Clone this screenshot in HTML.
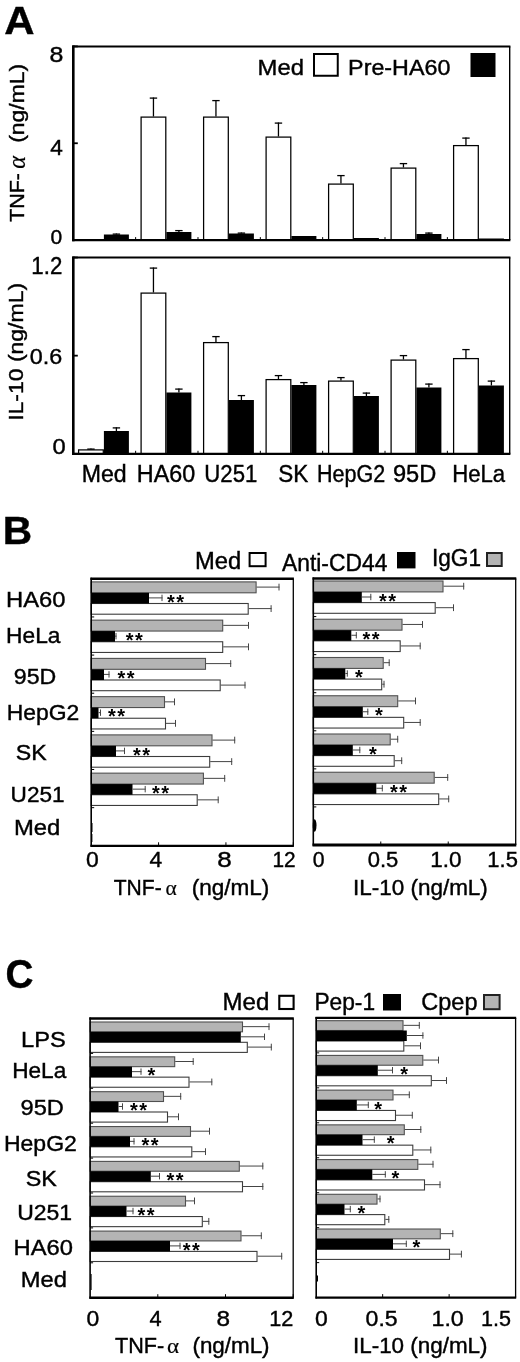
<!DOCTYPE html>
<html lang="en"><head><meta charset="utf-8"><title>Figure</title>
<style>
html,body{margin:0;padding:0;background:#fff;}
body{width:520px;height:1362px;overflow:hidden;}
svg{display:block;}
svg text{font-family:"Liberation Sans", "DejaVu Sans", sans-serif;fill:#000;stroke:#000;stroke-width:0.4px;}
svg text.st{stroke-width:0;}
svg text.sf{font-family:"Liberation Serif", "DejaVu Serif", serif;stroke-width:0.2px;}
</style></head><body>
<svg width="520" height="1362" viewBox="0 0 520 1362">
<rect width="520" height="1362" fill="#fff"/>
<text x="4.35" y="33.6" font-size="39.5" font-weight="bold" textLength="30.28" lengthAdjust="spacingAndGlyphs">A</text>
<rect x="103.9" y="234.5" width="25" height="5.6" fill="#000"/>
<line x1="116.4" y1="234.5" x2="116.4" y2="233.5" stroke="#000" stroke-width="1.3"/>
<line x1="112.7" y1="234.1" x2="120.1" y2="234.1" stroke="#000" stroke-width="1.3"/>
<rect x="141.1" y="117.1" width="24.7" height="123" fill="#fff" stroke="#000" stroke-width="1.25"/>
<line x1="153.45" y1="116.5" x2="153.45" y2="97.5" stroke="#000" stroke-width="1.3"/>
<line x1="149.75" y1="98.1" x2="157.15" y2="98.1" stroke="#000" stroke-width="1.3"/>
<rect x="166.4" y="232" width="25" height="8.1" fill="#000"/>
<line x1="178.9" y1="232" x2="178.9" y2="230" stroke="#000" stroke-width="1.3"/>
<line x1="175.2" y1="230.6" x2="182.6" y2="230.6" stroke="#000" stroke-width="1.3"/>
<rect x="203.6" y="117.1" width="24.7" height="123" fill="#fff" stroke="#000" stroke-width="1.25"/>
<line x1="215.95" y1="116.5" x2="215.95" y2="100" stroke="#000" stroke-width="1.3"/>
<line x1="212.25" y1="100.6" x2="219.65" y2="100.6" stroke="#000" stroke-width="1.3"/>
<rect x="228.9" y="233.5" width="25" height="6.6" fill="#000"/>
<line x1="241.4" y1="233.5" x2="241.4" y2="232.5" stroke="#000" stroke-width="1.3"/>
<line x1="237.7" y1="233.1" x2="245.1" y2="233.1" stroke="#000" stroke-width="1.3"/>
<rect x="266.1" y="137.1" width="24.7" height="103" fill="#fff" stroke="#000" stroke-width="1.25"/>
<line x1="278.45" y1="136.5" x2="278.45" y2="122.5" stroke="#000" stroke-width="1.3"/>
<line x1="274.75" y1="123.1" x2="282.15" y2="123.1" stroke="#000" stroke-width="1.3"/>
<rect x="291.4" y="236" width="25" height="4.1" fill="#000"/>
<rect x="328.6" y="184.1" width="24.7" height="56" fill="#fff" stroke="#000" stroke-width="1.25"/>
<line x1="340.95" y1="183.5" x2="340.95" y2="175" stroke="#000" stroke-width="1.3"/>
<line x1="337.25" y1="175.6" x2="344.65" y2="175.6" stroke="#000" stroke-width="1.3"/>
<rect x="353.9" y="238" width="25" height="2.1" fill="#000"/>
<rect x="391.1" y="168.1" width="24.7" height="72" fill="#fff" stroke="#000" stroke-width="1.25"/>
<line x1="403.45" y1="167.5" x2="403.45" y2="163" stroke="#000" stroke-width="1.3"/>
<line x1="399.75" y1="163.6" x2="407.15" y2="163.6" stroke="#000" stroke-width="1.3"/>
<rect x="416.4" y="234" width="25" height="6.1" fill="#000"/>
<line x1="428.9" y1="234" x2="428.9" y2="232.5" stroke="#000" stroke-width="1.3"/>
<line x1="425.2" y1="233.1" x2="432.6" y2="233.1" stroke="#000" stroke-width="1.3"/>
<rect x="453.6" y="145.6" width="24.7" height="94.5" fill="#fff" stroke="#000" stroke-width="1.25"/>
<line x1="465.95" y1="145" x2="465.95" y2="137.5" stroke="#000" stroke-width="1.3"/>
<line x1="462.25" y1="138.1" x2="469.65" y2="138.1" stroke="#000" stroke-width="1.3"/>
<rect x="478.9" y="238.5" width="25" height="1.6" fill="#000"/>
<line x1="135.64" y1="240.1" x2="135.64" y2="237.1" stroke="#000" stroke-width="1"/>
<line x1="197.99" y1="240.1" x2="197.99" y2="237.1" stroke="#000" stroke-width="1"/>
<line x1="260.33" y1="240.1" x2="260.33" y2="237.1" stroke="#000" stroke-width="1"/>
<line x1="322.67" y1="240.1" x2="322.67" y2="237.1" stroke="#000" stroke-width="1"/>
<line x1="385.01" y1="240.1" x2="385.01" y2="237.1" stroke="#000" stroke-width="1"/>
<line x1="447.36" y1="240.1" x2="447.36" y2="237.1" stroke="#000" stroke-width="1"/>
<line x1="73.3" y1="45.4" x2="73.3" y2="241.3" stroke="#000" stroke-width="2.6"/>
<line x1="72.3" y1="46.4" x2="510.4" y2="46.4" stroke="#000" stroke-width="2"/>
<line x1="72.3" y1="240.1" x2="510.4" y2="240.1" stroke="#000" stroke-width="2.2"/>
<line x1="509.7" y1="46.4" x2="509.7" y2="240.1" stroke="#000" stroke-width="1.4"/>
<line x1="73.3" y1="46.4" x2="77.8" y2="46.4" stroke="#000" stroke-width="1.8"/>
<line x1="73.3" y1="143.25" x2="77.8" y2="143.25" stroke="#000" stroke-width="1.8"/>
<line x1="73.3" y1="240.1" x2="77.8" y2="240.1" stroke="#000" stroke-width="1.8"/>
<text x="49.44" y="62.2" font-size="22.32" textLength="13.89" lengthAdjust="spacingAndGlyphs">8</text>
<text x="50.39" y="154.9" font-size="21.61" textLength="12.56" lengthAdjust="spacingAndGlyphs">4</text>
<text x="50.61" y="244" font-size="20.2" textLength="11.7" lengthAdjust="spacingAndGlyphs">0</text>
<text transform="translate(24.3 221.73) rotate(-90)" font-size="20.8" textLength="48.62" lengthAdjust="spacingAndGlyphs">TNF-</text>
<text transform="translate(24.7 168.87) rotate(-90)" font-size="25" class="sf" font-style="italic" textLength="12.74" lengthAdjust="spacingAndGlyphs">α</text>
<text transform="translate(24.3 142.77) rotate(-90)" font-size="20.8" textLength="78.86" lengthAdjust="spacingAndGlyphs">(ng/mL)</text>
<text x="257.59" y="75" font-size="21.95" textLength="46.41" lengthAdjust="spacingAndGlyphs">Med</text>
<rect x="314" y="54" width="23.75" height="21.75" fill="#fff" stroke="#000" stroke-width="2"/>
<text x="348.14" y="75" font-size="21.95" textLength="102.25" lengthAdjust="spacingAndGlyphs">Pre-HA60</text>
<rect x="470.5" y="53" width="25" height="24" fill="#000"/>
<rect x="78.6" y="449.9" width="24.7" height="3.9" fill="#fff" stroke="#000" stroke-width="1.25"/>
<line x1="90.95" y1="449.3" x2="90.95" y2="448.5" stroke="#000" stroke-width="1.3"/>
<line x1="87.25" y1="449.1" x2="94.65" y2="449.1" stroke="#000" stroke-width="1.3"/>
<rect x="103.9" y="431" width="25" height="22.8" fill="#000"/>
<line x1="116.4" y1="431" x2="116.4" y2="427.3" stroke="#000" stroke-width="1.3"/>
<line x1="112.7" y1="427.9" x2="120.1" y2="427.9" stroke="#000" stroke-width="1.3"/>
<rect x="141.1" y="293.1" width="24.7" height="160.7" fill="#fff" stroke="#000" stroke-width="1.25"/>
<line x1="153.45" y1="292.5" x2="153.45" y2="267.5" stroke="#000" stroke-width="1.3"/>
<line x1="149.75" y1="268.1" x2="157.15" y2="268.1" stroke="#000" stroke-width="1.3"/>
<rect x="166.4" y="392.5" width="25" height="61.3" fill="#000"/>
<line x1="178.9" y1="392.5" x2="178.9" y2="388.5" stroke="#000" stroke-width="1.3"/>
<line x1="175.2" y1="389.1" x2="182.6" y2="389.1" stroke="#000" stroke-width="1.3"/>
<rect x="203.6" y="342.6" width="24.7" height="111.2" fill="#fff" stroke="#000" stroke-width="1.25"/>
<line x1="215.95" y1="342" x2="215.95" y2="336" stroke="#000" stroke-width="1.3"/>
<line x1="212.25" y1="336.6" x2="219.65" y2="336.6" stroke="#000" stroke-width="1.3"/>
<rect x="228.9" y="400" width="25" height="53.8" fill="#000"/>
<line x1="241.4" y1="400" x2="241.4" y2="395" stroke="#000" stroke-width="1.3"/>
<line x1="237.7" y1="395.6" x2="245.1" y2="395.6" stroke="#000" stroke-width="1.3"/>
<rect x="266.1" y="379.6" width="24.7" height="74.2" fill="#fff" stroke="#000" stroke-width="1.25"/>
<line x1="278.45" y1="379" x2="278.45" y2="375" stroke="#000" stroke-width="1.3"/>
<line x1="274.75" y1="375.6" x2="282.15" y2="375.6" stroke="#000" stroke-width="1.3"/>
<rect x="291.4" y="385" width="25" height="68.8" fill="#000"/>
<line x1="303.9" y1="385" x2="303.9" y2="382" stroke="#000" stroke-width="1.3"/>
<line x1="300.2" y1="382.6" x2="307.6" y2="382.6" stroke="#000" stroke-width="1.3"/>
<rect x="328.6" y="381.1" width="24.7" height="72.7" fill="#fff" stroke="#000" stroke-width="1.25"/>
<line x1="340.95" y1="380.5" x2="340.95" y2="377" stroke="#000" stroke-width="1.3"/>
<line x1="337.25" y1="377.6" x2="344.65" y2="377.6" stroke="#000" stroke-width="1.3"/>
<rect x="353.9" y="396" width="25" height="57.8" fill="#000"/>
<line x1="366.4" y1="396" x2="366.4" y2="392.5" stroke="#000" stroke-width="1.3"/>
<line x1="362.7" y1="393.1" x2="370.1" y2="393.1" stroke="#000" stroke-width="1.3"/>
<rect x="391.1" y="360.1" width="24.7" height="93.7" fill="#fff" stroke="#000" stroke-width="1.25"/>
<line x1="403.45" y1="359.5" x2="403.45" y2="355" stroke="#000" stroke-width="1.3"/>
<line x1="399.75" y1="355.6" x2="407.15" y2="355.6" stroke="#000" stroke-width="1.3"/>
<rect x="416.4" y="387.5" width="25" height="66.3" fill="#000"/>
<line x1="428.9" y1="387.5" x2="428.9" y2="383.5" stroke="#000" stroke-width="1.3"/>
<line x1="425.2" y1="384.1" x2="432.6" y2="384.1" stroke="#000" stroke-width="1.3"/>
<rect x="453.6" y="358.6" width="24.7" height="95.2" fill="#fff" stroke="#000" stroke-width="1.25"/>
<line x1="465.95" y1="358" x2="465.95" y2="349" stroke="#000" stroke-width="1.3"/>
<line x1="462.25" y1="349.6" x2="469.65" y2="349.6" stroke="#000" stroke-width="1.3"/>
<rect x="478.9" y="385.5" width="25" height="68.3" fill="#000"/>
<line x1="491.4" y1="385.5" x2="491.4" y2="380.5" stroke="#000" stroke-width="1.3"/>
<line x1="487.7" y1="381.1" x2="495.1" y2="381.1" stroke="#000" stroke-width="1.3"/>
<line x1="135.64" y1="453.8" x2="135.64" y2="450.8" stroke="#000" stroke-width="1"/>
<line x1="197.99" y1="453.8" x2="197.99" y2="450.8" stroke="#000" stroke-width="1"/>
<line x1="260.33" y1="453.8" x2="260.33" y2="450.8" stroke="#000" stroke-width="1"/>
<line x1="322.67" y1="453.8" x2="322.67" y2="450.8" stroke="#000" stroke-width="1"/>
<line x1="385.01" y1="453.8" x2="385.01" y2="450.8" stroke="#000" stroke-width="1"/>
<line x1="447.36" y1="453.8" x2="447.36" y2="450.8" stroke="#000" stroke-width="1"/>
<line x1="73.3" y1="256.5" x2="73.3" y2="455" stroke="#000" stroke-width="2.6"/>
<line x1="72.3" y1="257.5" x2="510.4" y2="257.5" stroke="#000" stroke-width="2"/>
<line x1="72.3" y1="453.8" x2="510.4" y2="453.8" stroke="#000" stroke-width="2.2"/>
<line x1="509.7" y1="257.5" x2="509.7" y2="453.8" stroke="#000" stroke-width="1.4"/>
<line x1="73.3" y1="257.5" x2="77.8" y2="257.5" stroke="#000" stroke-width="1.8"/>
<line x1="73.3" y1="355.65" x2="77.8" y2="355.65" stroke="#000" stroke-width="1.8"/>
<line x1="73.3" y1="453.8" x2="77.8" y2="453.8" stroke="#000" stroke-width="1.8"/>
<text x="31.33" y="273.7" font-size="23.5" textLength="30.93" lengthAdjust="spacingAndGlyphs">1.2</text>
<text x="29.82" y="364" font-size="21.61" textLength="32.47" lengthAdjust="spacingAndGlyphs">0.6</text>
<text x="52.51" y="454.2" font-size="21.19" textLength="13.21" lengthAdjust="spacingAndGlyphs">0</text>
<text transform="translate(23.3 420.87) rotate(-90)" font-size="20.8" textLength="137.95" lengthAdjust="spacingAndGlyphs">IL-10 (ng/mL)</text>
<text x="81.65" y="481.9" font-size="23.5" textLength="45" lengthAdjust="spacingAndGlyphs">Med</text>
<text x="136.83" y="481.9" font-size="23.5" textLength="58.38" lengthAdjust="spacingAndGlyphs">HA60</text>
<text x="204.34" y="481.9" font-size="23.5" textLength="52.93" lengthAdjust="spacingAndGlyphs">U251</text>
<text x="278.19" y="481.9" font-size="23.5" textLength="30.01" lengthAdjust="spacingAndGlyphs">SK</text>
<text x="317.08" y="481.9" font-size="23.5" textLength="68.17" lengthAdjust="spacingAndGlyphs">HepG2</text>
<text x="392.94" y="481.9" font-size="23.5" textLength="43.38" lengthAdjust="spacingAndGlyphs">95D</text>
<text x="452.23" y="481.9" font-size="23.5" textLength="52.93" lengthAdjust="spacingAndGlyphs">HeLa</text>
<text x="2.76" y="544.3" font-size="39.5" font-weight="bold" textLength="29.36" lengthAdjust="spacingAndGlyphs">B</text>
<text x="195.1" y="568.7" font-size="23.5" textLength="46.19" lengthAdjust="spacingAndGlyphs">Med</text>
<rect x="249.6" y="553" width="16" height="13.2" fill="#fff" stroke="#000" stroke-width="2"/>
<text x="282" y="570.7" font-size="23.5" textLength="105.34" lengthAdjust="spacingAndGlyphs">Anti-CD44</text>
<rect x="397" y="552" width="18.5" height="16.4" fill="#000"/>
<text x="431.96" y="566.2" font-size="23.5" textLength="49.13" lengthAdjust="spacingAndGlyphs">IgG1</text>
<rect x="487" y="553" width="14.7" height="13" fill="#b4b4b4" stroke="#222" stroke-width="2"/>
<rect x="91.2" y="581.9" width="164.9" height="10.9" fill="#b4b4b4" stroke="#505050" stroke-width="1.1"/>
<line x1="256.6" y1="587.1" x2="279.5" y2="587.1" stroke="#444" stroke-width="1"/>
<line x1="279" y1="583.7" x2="279" y2="590.5" stroke="#444" stroke-width="1"/>
<rect x="91.2" y="603.5" width="157" height="10.7" fill="#fff" stroke="#3c3c3c" stroke-width="1.1"/>
<line x1="248.7" y1="608.6" x2="271.6" y2="608.6" stroke="#444" stroke-width="1"/>
<line x1="271.1" y1="605.2" x2="271.1" y2="612" stroke="#444" stroke-width="1"/>
<rect x="91.2" y="592.8" width="57.8" height="10.7" fill="#000"/>
<line x1="149" y1="597.9" x2="162.5" y2="597.9" stroke="#444" stroke-width="1"/>
<line x1="162" y1="594.7" x2="162" y2="601.1" stroke="#444" stroke-width="1"/>
<text x="166.96" y="608.54" font-size="20" font-weight="bold" class="st">*<tspan dx="1.52">*</tspan></text>
<rect x="91.2" y="620.15" width="131.5" height="10.9" fill="#b4b4b4" stroke="#505050" stroke-width="1.1"/>
<line x1="223.2" y1="625.35" x2="249" y2="625.35" stroke="#444" stroke-width="1"/>
<line x1="248.5" y1="621.95" x2="248.5" y2="628.75" stroke="#444" stroke-width="1"/>
<rect x="91.2" y="641.75" width="131.5" height="10.7" fill="#fff" stroke="#3c3c3c" stroke-width="1.1"/>
<line x1="223.2" y1="646.85" x2="249" y2="646.85" stroke="#444" stroke-width="1"/>
<line x1="248.5" y1="643.45" x2="248.5" y2="650.25" stroke="#444" stroke-width="1"/>
<rect x="91.2" y="631.05" width="23.8" height="10.7" fill="#000"/>
<line x1="115" y1="636.15" x2="116.5" y2="636.15" stroke="#444" stroke-width="1"/>
<line x1="116" y1="632.95" x2="116" y2="639.35" stroke="#444" stroke-width="1"/>
<text x="125.66" y="646.79" font-size="20" font-weight="bold" class="st">*<tspan dx="1.52">*</tspan></text>
<rect x="91.2" y="658.4" width="114.3" height="10.9" fill="#b4b4b4" stroke="#505050" stroke-width="1.1"/>
<line x1="206" y1="663.6" x2="231.2" y2="663.6" stroke="#444" stroke-width="1"/>
<line x1="230.7" y1="660.2" x2="230.7" y2="667" stroke="#444" stroke-width="1"/>
<rect x="91.2" y="680" width="129" height="10.7" fill="#fff" stroke="#3c3c3c" stroke-width="1.1"/>
<line x1="220.7" y1="685.1" x2="245.5" y2="685.1" stroke="#444" stroke-width="1"/>
<line x1="245" y1="681.7" x2="245" y2="688.5" stroke="#444" stroke-width="1"/>
<rect x="91.2" y="669.3" width="12.8" height="10.7" fill="#000"/>
<line x1="104" y1="674.4" x2="109.5" y2="674.4" stroke="#444" stroke-width="1"/>
<line x1="109" y1="671.2" x2="109" y2="677.6" stroke="#444" stroke-width="1"/>
<text x="117.46" y="685.04" font-size="20" font-weight="bold" class="st">*<tspan dx="1.52">*</tspan></text>
<rect x="91.2" y="696.65" width="73.3" height="10.9" fill="#b4b4b4" stroke="#505050" stroke-width="1.1"/>
<line x1="165" y1="701.85" x2="175" y2="701.85" stroke="#444" stroke-width="1"/>
<line x1="174.5" y1="698.45" x2="174.5" y2="705.25" stroke="#444" stroke-width="1"/>
<rect x="91.2" y="718.25" width="74.3" height="10.7" fill="#fff" stroke="#3c3c3c" stroke-width="1.1"/>
<line x1="166" y1="723.35" x2="176" y2="723.35" stroke="#444" stroke-width="1"/>
<line x1="175.5" y1="719.95" x2="175.5" y2="726.75" stroke="#444" stroke-width="1"/>
<rect x="91.2" y="707.55" width="7.3" height="10.7" fill="#000"/>
<line x1="98.5" y1="712.65" x2="101" y2="712.65" stroke="#444" stroke-width="1"/>
<line x1="100.5" y1="709.45" x2="100.5" y2="715.85" stroke="#444" stroke-width="1"/>
<text x="107.96" y="723.29" font-size="20" font-weight="bold" class="st">*<tspan dx="1.52">*</tspan></text>
<rect x="91.2" y="734.9" width="120.8" height="10.9" fill="#b4b4b4" stroke="#505050" stroke-width="1.1"/>
<line x1="212.5" y1="740.1" x2="235.2" y2="740.1" stroke="#444" stroke-width="1"/>
<line x1="234.7" y1="736.7" x2="234.7" y2="743.5" stroke="#444" stroke-width="1"/>
<rect x="91.2" y="756.5" width="118.5" height="10.7" fill="#fff" stroke="#3c3c3c" stroke-width="1.1"/>
<line x1="210.2" y1="761.6" x2="232.2" y2="761.6" stroke="#444" stroke-width="1"/>
<line x1="231.7" y1="758.2" x2="231.7" y2="765" stroke="#444" stroke-width="1"/>
<rect x="91.2" y="745.8" width="24.8" height="10.7" fill="#000"/>
<line x1="116" y1="750.9" x2="125" y2="750.9" stroke="#444" stroke-width="1"/>
<line x1="124.5" y1="747.7" x2="124.5" y2="754.1" stroke="#444" stroke-width="1"/>
<text x="132.96" y="761.54" font-size="20" font-weight="bold" class="st">*<tspan dx="1.52">*</tspan></text>
<rect x="91.2" y="773.15" width="112.2" height="10.9" fill="#b4b4b4" stroke="#505050" stroke-width="1.1"/>
<line x1="203.9" y1="778.35" x2="225.2" y2="778.35" stroke="#444" stroke-width="1"/>
<line x1="224.7" y1="774.95" x2="224.7" y2="781.75" stroke="#444" stroke-width="1"/>
<rect x="91.2" y="794.75" width="106" height="10.7" fill="#fff" stroke="#3c3c3c" stroke-width="1.1"/>
<line x1="197.7" y1="799.85" x2="218.7" y2="799.85" stroke="#444" stroke-width="1"/>
<line x1="218.2" y1="796.45" x2="218.2" y2="803.25" stroke="#444" stroke-width="1"/>
<rect x="91.2" y="784.05" width="41.3" height="10.7" fill="#000"/>
<line x1="132.5" y1="789.15" x2="145.7" y2="789.15" stroke="#444" stroke-width="1"/>
<line x1="145.2" y1="785.95" x2="145.2" y2="792.35" stroke="#444" stroke-width="1"/>
<text x="151.96" y="799.79" font-size="20" font-weight="bold" class="st">*<tspan dx="1.52">*</tspan></text>
<line x1="91.2" y1="616.94" x2="94.2" y2="616.94" stroke="#000" stroke-width="1"/>
<line x1="91.2" y1="655.09" x2="94.2" y2="655.09" stroke="#000" stroke-width="1"/>
<line x1="91.2" y1="693.23" x2="94.2" y2="693.23" stroke="#000" stroke-width="1"/>
<line x1="91.2" y1="731.37" x2="94.2" y2="731.37" stroke="#000" stroke-width="1"/>
<line x1="91.2" y1="769.51" x2="94.2" y2="769.51" stroke="#000" stroke-width="1"/>
<line x1="91.2" y1="807.66" x2="94.2" y2="807.66" stroke="#000" stroke-width="1"/>
<line x1="91.2" y1="577.8" x2="91.2" y2="846.6" stroke="#000" stroke-width="1.6"/>
<line x1="90.4" y1="578.8" x2="293.9" y2="578.8" stroke="#000" stroke-width="2.4"/>
<line x1="90.4" y1="845.8" x2="293.9" y2="845.8" stroke="#000" stroke-width="2.3"/>
<line x1="293.3" y1="578.8" x2="293.3" y2="845.8" stroke="#000" stroke-width="1.3"/>
<line x1="91.9" y1="823" x2="91.9" y2="832" stroke="#000" stroke-width="1.2"/>
<line x1="91.9" y1="834" x2="91.9" y2="842" stroke="#000" stroke-width="1"/>
<line x1="158.57" y1="845.8" x2="158.57" y2="842.3" stroke="#000" stroke-width="1"/>
<line x1="225.93" y1="845.8" x2="225.93" y2="842.3" stroke="#000" stroke-width="1"/>
<line x1="293.3" y1="845.8" x2="293.3" y2="842.3" stroke="#000" stroke-width="1"/>
<text x="86.14" y="867" font-size="21.89" textLength="12.75" lengthAdjust="spacingAndGlyphs">0</text>
<text x="149.49" y="867" font-size="21.89" textLength="12.67" lengthAdjust="spacingAndGlyphs">4</text>
<text x="217.39" y="867" font-size="21.89" textLength="14.48" lengthAdjust="spacingAndGlyphs">8</text>
<text x="272.44" y="867" font-size="21.89" textLength="23.2" lengthAdjust="spacingAndGlyphs">12</text>
<text x="113.78" y="895.2" font-size="21.51" textLength="47.9" lengthAdjust="spacingAndGlyphs">TNF-</text>
<text x="165.49" y="895.2" font-size="22" class="sf" textLength="11.27" lengthAdjust="spacingAndGlyphs">α</text>
<text x="191.65" y="895.2" font-size="21.51" textLength="77.72" lengthAdjust="spacingAndGlyphs">(ng/mL)</text>
<rect x="313.3" y="581" width="129.7" height="10.9" fill="#b4b4b4" stroke="#505050" stroke-width="1.1"/>
<line x1="443.5" y1="586.2" x2="464.2" y2="586.2" stroke="#444" stroke-width="1"/>
<line x1="463.7" y1="582.8" x2="463.7" y2="589.6" stroke="#444" stroke-width="1"/>
<rect x="313.3" y="602.6" width="121.9" height="10.7" fill="#fff" stroke="#3c3c3c" stroke-width="1.1"/>
<line x1="435.7" y1="607.7" x2="454" y2="607.7" stroke="#444" stroke-width="1"/>
<line x1="453.5" y1="604.3" x2="453.5" y2="611.1" stroke="#444" stroke-width="1"/>
<rect x="313.3" y="591.9" width="48.5" height="10.7" fill="#000"/>
<line x1="361.8" y1="597" x2="371.3" y2="597" stroke="#444" stroke-width="1"/>
<line x1="370.8" y1="593.8" x2="370.8" y2="600.2" stroke="#444" stroke-width="1"/>
<text x="378.96" y="607.64" font-size="20" font-weight="bold" class="st">*<tspan dx="1.52">*</tspan></text>
<rect x="313.3" y="619.25" width="88.7" height="10.9" fill="#b4b4b4" stroke="#505050" stroke-width="1.1"/>
<line x1="402.5" y1="624.45" x2="423" y2="624.45" stroke="#444" stroke-width="1"/>
<line x1="422.5" y1="621.05" x2="422.5" y2="627.85" stroke="#444" stroke-width="1"/>
<rect x="313.3" y="640.85" width="86.9" height="10.7" fill="#fff" stroke="#3c3c3c" stroke-width="1.1"/>
<line x1="400.7" y1="645.95" x2="420.7" y2="645.95" stroke="#444" stroke-width="1"/>
<line x1="420.2" y1="642.55" x2="420.2" y2="649.35" stroke="#444" stroke-width="1"/>
<rect x="313.3" y="630.15" width="38" height="10.7" fill="#000"/>
<line x1="351.3" y1="635.25" x2="356.8" y2="635.25" stroke="#444" stroke-width="1"/>
<line x1="356.3" y1="632.05" x2="356.3" y2="638.45" stroke="#444" stroke-width="1"/>
<text x="362.46" y="645.89" font-size="20" font-weight="bold" class="st">*<tspan dx="1.52">*</tspan></text>
<rect x="313.3" y="657.5" width="69.9" height="10.9" fill="#b4b4b4" stroke="#505050" stroke-width="1.1"/>
<line x1="383.7" y1="662.7" x2="389.7" y2="662.7" stroke="#444" stroke-width="1"/>
<line x1="389.2" y1="659.3" x2="389.2" y2="666.1" stroke="#444" stroke-width="1"/>
<rect x="313.3" y="679.1" width="68.4" height="10.7" fill="#fff" stroke="#3c3c3c" stroke-width="1.1"/>
<line x1="382.2" y1="684.2" x2="384.5" y2="684.2" stroke="#444" stroke-width="1"/>
<line x1="384" y1="680.8" x2="384" y2="687.6" stroke="#444" stroke-width="1"/>
<rect x="313.3" y="668.4" width="32" height="10.7" fill="#000"/>
<line x1="345.3" y1="673.5" x2="347.8" y2="673.5" stroke="#444" stroke-width="1"/>
<line x1="347.3" y1="670.3" x2="347.3" y2="676.7" stroke="#444" stroke-width="1"/>
<text x="354.96" y="684.14" font-size="20" font-weight="bold" class="st">*</text>
<rect x="313.3" y="695.75" width="84.4" height="10.9" fill="#b4b4b4" stroke="#505050" stroke-width="1.1"/>
<line x1="398.2" y1="700.95" x2="416" y2="700.95" stroke="#444" stroke-width="1"/>
<line x1="415.5" y1="697.55" x2="415.5" y2="704.35" stroke="#444" stroke-width="1"/>
<rect x="313.3" y="717.35" width="90.4" height="10.7" fill="#fff" stroke="#3c3c3c" stroke-width="1.1"/>
<line x1="404.2" y1="722.45" x2="420.7" y2="722.45" stroke="#444" stroke-width="1"/>
<line x1="420.2" y1="719.05" x2="420.2" y2="725.85" stroke="#444" stroke-width="1"/>
<rect x="313.3" y="706.65" width="49.5" height="10.7" fill="#000"/>
<line x1="362.8" y1="711.75" x2="368.3" y2="711.75" stroke="#444" stroke-width="1"/>
<line x1="367.8" y1="708.55" x2="367.8" y2="714.95" stroke="#444" stroke-width="1"/>
<text x="374.96" y="722.39" font-size="20" font-weight="bold" class="st">*</text>
<rect x="313.3" y="734" width="76.9" height="10.9" fill="#b4b4b4" stroke="#505050" stroke-width="1.1"/>
<line x1="390.7" y1="739.2" x2="398.2" y2="739.2" stroke="#444" stroke-width="1"/>
<line x1="397.7" y1="735.8" x2="397.7" y2="742.6" stroke="#444" stroke-width="1"/>
<rect x="313.3" y="755.6" width="80.9" height="10.7" fill="#fff" stroke="#3c3c3c" stroke-width="1.1"/>
<line x1="394.7" y1="760.7" x2="402.2" y2="760.7" stroke="#444" stroke-width="1"/>
<line x1="401.7" y1="757.3" x2="401.7" y2="764.1" stroke="#444" stroke-width="1"/>
<rect x="313.3" y="744.9" width="39.5" height="10.7" fill="#000"/>
<line x1="352.8" y1="750" x2="360.3" y2="750" stroke="#444" stroke-width="1"/>
<line x1="359.8" y1="746.8" x2="359.8" y2="753.2" stroke="#444" stroke-width="1"/>
<text x="368.96" y="760.64" font-size="20" font-weight="bold" class="st">*</text>
<rect x="313.3" y="772.25" width="120.9" height="10.9" fill="#b4b4b4" stroke="#505050" stroke-width="1.1"/>
<line x1="434.7" y1="777.45" x2="448.2" y2="777.45" stroke="#444" stroke-width="1"/>
<line x1="447.7" y1="774.05" x2="447.7" y2="780.85" stroke="#444" stroke-width="1"/>
<rect x="313.3" y="793.85" width="125.4" height="10.7" fill="#fff" stroke="#3c3c3c" stroke-width="1.1"/>
<line x1="439.2" y1="798.95" x2="449.2" y2="798.95" stroke="#444" stroke-width="1"/>
<line x1="448.7" y1="795.55" x2="448.7" y2="802.35" stroke="#444" stroke-width="1"/>
<rect x="313.3" y="783.15" width="63" height="10.7" fill="#000"/>
<line x1="376.3" y1="788.25" x2="382.8" y2="788.25" stroke="#444" stroke-width="1"/>
<line x1="382.3" y1="785.05" x2="382.3" y2="791.45" stroke="#444" stroke-width="1"/>
<text x="389.96" y="798.89" font-size="20" font-weight="bold" class="st">*<tspan dx="1.52">*</tspan></text>
<line x1="313.3" y1="616.57" x2="316.3" y2="616.57" stroke="#000" stroke-width="1"/>
<line x1="313.3" y1="654.64" x2="316.3" y2="654.64" stroke="#000" stroke-width="1"/>
<line x1="313.3" y1="692.71" x2="316.3" y2="692.71" stroke="#000" stroke-width="1"/>
<line x1="313.3" y1="730.79" x2="316.3" y2="730.79" stroke="#000" stroke-width="1"/>
<line x1="313.3" y1="768.86" x2="316.3" y2="768.86" stroke="#000" stroke-width="1"/>
<line x1="313.3" y1="806.93" x2="316.3" y2="806.93" stroke="#000" stroke-width="1"/>
<line x1="313.3" y1="577.5" x2="313.3" y2="845.8" stroke="#000" stroke-width="1.6"/>
<line x1="312.5" y1="578.5" x2="516.3" y2="578.5" stroke="#000" stroke-width="2.4"/>
<line x1="312.5" y1="845" x2="516.3" y2="845" stroke="#000" stroke-width="3"/>
<line x1="515.7" y1="578.5" x2="515.7" y2="845" stroke="#000" stroke-width="1.3"/>
<ellipse cx="314.6" cy="825.5" rx="1.9" ry="6.2" fill="#000"/>
<line x1="380.77" y1="845" x2="380.77" y2="841.5" stroke="#000" stroke-width="1"/>
<line x1="448.23" y1="845" x2="448.23" y2="841.5" stroke="#000" stroke-width="1"/>
<text x="312.7" y="867" font-size="21.89" textLength="11.82" lengthAdjust="spacingAndGlyphs">0</text>
<text x="367.67" y="867" font-size="21.89" textLength="30.61" lengthAdjust="spacingAndGlyphs">0.5</text>
<text x="430.32" y="867" font-size="21.89" textLength="31.23" lengthAdjust="spacingAndGlyphs">1.0</text>
<text x="487.35" y="867" font-size="21.89" textLength="30.53" lengthAdjust="spacingAndGlyphs">1.5</text>
<text x="352.98" y="895.2" font-size="21.51" textLength="134.87" lengthAdjust="spacingAndGlyphs">IL-10 (ng/mL)</text>
<text x="6" y="607.4" font-size="22.24" textLength="59.43" lengthAdjust="spacingAndGlyphs">HA60</text>
<text x="6.08" y="643.3" font-size="22.24" textLength="54.38" lengthAdjust="spacingAndGlyphs">HeLa</text>
<text x="13.86" y="684.4" font-size="22.24" textLength="42.43" lengthAdjust="spacingAndGlyphs">95D</text>
<text x="6.77" y="720.4" font-size="22.24" textLength="72.54" lengthAdjust="spacingAndGlyphs">HepG2</text>
<text x="15.86" y="759.8" font-size="22.24" textLength="30.95" lengthAdjust="spacingAndGlyphs">SK</text>
<text x="10.61" y="801.5" font-size="22.24" textLength="53.98" lengthAdjust="spacingAndGlyphs">U251</text>
<text x="13.99" y="834.8" font-size="22.24" textLength="46.41" lengthAdjust="spacingAndGlyphs">Med</text>
<text x="5.45" y="987.5" font-size="40.5" font-weight="bold" textLength="27.9" lengthAdjust="spacingAndGlyphs">C</text>
<text x="222.58" y="1010.3" font-size="23.5" textLength="46.73" lengthAdjust="spacingAndGlyphs">Med</text>
<rect x="279.3" y="995.8" width="14.3" height="13.2" fill="#fff" stroke="#000" stroke-width="2.1"/>
<text x="314.38" y="1010.3" font-size="23.5" textLength="60.72" lengthAdjust="spacingAndGlyphs">Pep-1</text>
<rect x="383" y="994" width="18" height="16.5" fill="#000"/>
<text x="421.33" y="1010.3" font-size="23.5" textLength="56.13" lengthAdjust="spacingAndGlyphs">Cpep</text>
<rect x="484" y="995" width="15.6" height="14.2" fill="#b4b4b4" stroke="#222" stroke-width="2"/>
<rect x="90.1" y="1022" width="152.4" height="9.8" fill="#b4b4b4" stroke="#505050" stroke-width="1.1"/>
<line x1="243" y1="1026.65" x2="269.5" y2="1026.65" stroke="#444" stroke-width="1"/>
<line x1="269" y1="1023.25" x2="269" y2="1030.05" stroke="#444" stroke-width="1"/>
<rect x="90.1" y="1042.3" width="157.2" height="10.1" fill="#fff" stroke="#3c3c3c" stroke-width="1.1"/>
<line x1="247.8" y1="1047.1" x2="271.8" y2="1047.1" stroke="#444" stroke-width="1"/>
<line x1="271.3" y1="1043.7" x2="271.3" y2="1050.5" stroke="#444" stroke-width="1"/>
<rect x="90.1" y="1031.8" width="150.7" height="10.5" fill="#000"/>
<line x1="240.8" y1="1036.8" x2="265" y2="1036.8" stroke="#444" stroke-width="1"/>
<line x1="264.5" y1="1033.6" x2="264.5" y2="1040" stroke="#444" stroke-width="1"/>
<rect x="90.1" y="1056.85" width="84.6" height="9.8" fill="#b4b4b4" stroke="#505050" stroke-width="1.1"/>
<line x1="175.2" y1="1061.5" x2="193.7" y2="1061.5" stroke="#444" stroke-width="1"/>
<line x1="193.2" y1="1058.1" x2="193.2" y2="1064.9" stroke="#444" stroke-width="1"/>
<rect x="90.1" y="1077.15" width="98.9" height="10.1" fill="#fff" stroke="#3c3c3c" stroke-width="1.1"/>
<line x1="189.5" y1="1081.95" x2="212.3" y2="1081.95" stroke="#444" stroke-width="1"/>
<line x1="211.8" y1="1078.55" x2="211.8" y2="1085.35" stroke="#444" stroke-width="1"/>
<rect x="90.1" y="1066.65" width="41.9" height="10.5" fill="#000"/>
<line x1="132" y1="1071.65" x2="141.5" y2="1071.65" stroke="#444" stroke-width="1"/>
<line x1="141" y1="1068.45" x2="141" y2="1074.85" stroke="#444" stroke-width="1"/>
<text x="147.46" y="1082.29" font-size="20" font-weight="bold" class="st">*</text>
<rect x="90.1" y="1091.7" width="73.4" height="9.8" fill="#b4b4b4" stroke="#505050" stroke-width="1.1"/>
<line x1="164" y1="1096.35" x2="181.2" y2="1096.35" stroke="#444" stroke-width="1"/>
<line x1="180.7" y1="1092.95" x2="180.7" y2="1099.75" stroke="#444" stroke-width="1"/>
<rect x="90.1" y="1112" width="77.4" height="10.1" fill="#fff" stroke="#3c3c3c" stroke-width="1.1"/>
<line x1="168" y1="1116.8" x2="179" y2="1116.8" stroke="#444" stroke-width="1"/>
<line x1="178.5" y1="1113.4" x2="178.5" y2="1120.2" stroke="#444" stroke-width="1"/>
<rect x="90.1" y="1101.5" width="28.4" height="10.5" fill="#000"/>
<line x1="118.5" y1="1106.5" x2="123" y2="1106.5" stroke="#444" stroke-width="1"/>
<line x1="122.5" y1="1103.3" x2="122.5" y2="1109.7" stroke="#444" stroke-width="1"/>
<text x="129.96" y="1117.14" font-size="20" font-weight="bold" class="st">*<tspan dx="1.52">*</tspan></text>
<rect x="90.1" y="1126.55" width="100.4" height="9.8" fill="#b4b4b4" stroke="#505050" stroke-width="1.1"/>
<line x1="191" y1="1131.2" x2="210" y2="1131.2" stroke="#444" stroke-width="1"/>
<line x1="209.5" y1="1127.8" x2="209.5" y2="1134.6" stroke="#444" stroke-width="1"/>
<rect x="90.1" y="1146.85" width="101.7" height="10.1" fill="#fff" stroke="#3c3c3c" stroke-width="1.1"/>
<line x1="192.3" y1="1151.65" x2="206" y2="1151.65" stroke="#444" stroke-width="1"/>
<line x1="205.5" y1="1148.25" x2="205.5" y2="1155.05" stroke="#444" stroke-width="1"/>
<rect x="90.1" y="1136.35" width="39.9" height="10.5" fill="#000"/>
<line x1="130" y1="1141.35" x2="134.5" y2="1141.35" stroke="#444" stroke-width="1"/>
<line x1="134" y1="1138.15" x2="134" y2="1144.55" stroke="#444" stroke-width="1"/>
<text x="141.46" y="1151.99" font-size="20" font-weight="bold" class="st">*<tspan dx="1.52">*</tspan></text>
<rect x="90.1" y="1161.4" width="149.2" height="9.8" fill="#b4b4b4" stroke="#505050" stroke-width="1.1"/>
<line x1="239.8" y1="1166.05" x2="263.3" y2="1166.05" stroke="#444" stroke-width="1"/>
<line x1="262.8" y1="1162.65" x2="262.8" y2="1169.45" stroke="#444" stroke-width="1"/>
<rect x="90.1" y="1181.7" width="152.4" height="10.1" fill="#fff" stroke="#3c3c3c" stroke-width="1.1"/>
<line x1="243" y1="1186.5" x2="263.3" y2="1186.5" stroke="#444" stroke-width="1"/>
<line x1="262.8" y1="1183.1" x2="262.8" y2="1189.9" stroke="#444" stroke-width="1"/>
<rect x="90.1" y="1171.2" width="60.7" height="10.5" fill="#000"/>
<line x1="150.8" y1="1176.2" x2="160" y2="1176.2" stroke="#444" stroke-width="1"/>
<line x1="159.5" y1="1173" x2="159.5" y2="1179.4" stroke="#444" stroke-width="1"/>
<text x="166.46" y="1186.84" font-size="20" font-weight="bold" class="st">*<tspan dx="1.52">*</tspan></text>
<rect x="90.1" y="1196.25" width="95.4" height="9.8" fill="#b4b4b4" stroke="#505050" stroke-width="1.1"/>
<line x1="186" y1="1200.9" x2="195" y2="1200.9" stroke="#444" stroke-width="1"/>
<line x1="194.5" y1="1197.5" x2="194.5" y2="1204.3" stroke="#444" stroke-width="1"/>
<rect x="90.1" y="1216.55" width="112.2" height="10.1" fill="#fff" stroke="#3c3c3c" stroke-width="1.1"/>
<line x1="202.8" y1="1221.35" x2="209.3" y2="1221.35" stroke="#444" stroke-width="1"/>
<line x1="208.8" y1="1217.95" x2="208.8" y2="1224.75" stroke="#444" stroke-width="1"/>
<rect x="90.1" y="1206.05" width="36.4" height="10.5" fill="#000"/>
<line x1="126.5" y1="1211.05" x2="133.5" y2="1211.05" stroke="#444" stroke-width="1"/>
<line x1="133" y1="1207.85" x2="133" y2="1214.25" stroke="#444" stroke-width="1"/>
<text x="137.46" y="1221.69" font-size="20" font-weight="bold" class="st">*<tspan dx="1.52">*</tspan></text>
<rect x="90.1" y="1231.1" width="150.9" height="9.8" fill="#b4b4b4" stroke="#505050" stroke-width="1.1"/>
<line x1="241.5" y1="1235.75" x2="261.8" y2="1235.75" stroke="#444" stroke-width="1"/>
<line x1="261.3" y1="1232.35" x2="261.3" y2="1239.15" stroke="#444" stroke-width="1"/>
<rect x="90.1" y="1251.4" width="166.9" height="10.1" fill="#fff" stroke="#3c3c3c" stroke-width="1.1"/>
<line x1="257.5" y1="1256.2" x2="282.2" y2="1256.2" stroke="#444" stroke-width="1"/>
<line x1="281.7" y1="1252.8" x2="281.7" y2="1259.6" stroke="#444" stroke-width="1"/>
<rect x="90.1" y="1240.9" width="79.9" height="10.5" fill="#000"/>
<line x1="170" y1="1245.9" x2="180.5" y2="1245.9" stroke="#444" stroke-width="1"/>
<line x1="180" y1="1242.7" x2="180" y2="1249.1" stroke="#444" stroke-width="1"/>
<text x="182.76" y="1256.54" font-size="20" font-weight="bold" class="st">*<tspan dx="1.52">*</tspan></text>
<line x1="90.1" y1="1053.4" x2="93.1" y2="1053.4" stroke="#000" stroke-width="1"/>
<line x1="90.1" y1="1088.3" x2="93.1" y2="1088.3" stroke="#000" stroke-width="1"/>
<line x1="90.1" y1="1123.2" x2="93.1" y2="1123.2" stroke="#000" stroke-width="1"/>
<line x1="90.1" y1="1158.1" x2="93.1" y2="1158.1" stroke="#000" stroke-width="1"/>
<line x1="90.1" y1="1193" x2="93.1" y2="1193" stroke="#000" stroke-width="1"/>
<line x1="90.1" y1="1227.9" x2="93.1" y2="1227.9" stroke="#000" stroke-width="1"/>
<line x1="90.1" y1="1262.8" x2="93.1" y2="1262.8" stroke="#000" stroke-width="1"/>
<line x1="90.1" y1="1017.5" x2="90.1" y2="1298.5" stroke="#000" stroke-width="1.6"/>
<line x1="89.3" y1="1018.5" x2="293.8" y2="1018.5" stroke="#000" stroke-width="2.4"/>
<line x1="89.3" y1="1297.7" x2="293.8" y2="1297.7" stroke="#000" stroke-width="2.4"/>
<line x1="293.2" y1="1018.5" x2="293.2" y2="1297.7" stroke="#000" stroke-width="1.3"/>
<line x1="91.1" y1="1274" x2="91.1" y2="1290" stroke="#000" stroke-width="1"/>
<line x1="157.8" y1="1297.7" x2="157.8" y2="1294.2" stroke="#000" stroke-width="1"/>
<line x1="225.5" y1="1297.7" x2="225.5" y2="1294.2" stroke="#000" stroke-width="1"/>
<line x1="293.2" y1="1297.7" x2="293.2" y2="1294.2" stroke="#000" stroke-width="1"/>
<text x="86.64" y="1326" font-size="21.89" textLength="12.75" lengthAdjust="spacingAndGlyphs">0</text>
<text x="149.51" y="1326" font-size="21.89" textLength="12.11" lengthAdjust="spacingAndGlyphs">4</text>
<text x="216.47" y="1326" font-size="21.89" textLength="13.54" lengthAdjust="spacingAndGlyphs">8</text>
<text x="269.17" y="1326" font-size="21.89" textLength="24.11" lengthAdjust="spacingAndGlyphs">12</text>
<text x="115.07" y="1353" font-size="21.51" textLength="49.14" lengthAdjust="spacingAndGlyphs">TNF-</text>
<text x="167.14" y="1353" font-size="22" class="sf" textLength="12.06" lengthAdjust="spacingAndGlyphs">α</text>
<text x="192.46" y="1353" font-size="21.51" textLength="77.09" lengthAdjust="spacingAndGlyphs">(ng/mL)</text>
<rect x="316.2" y="1020.7" width="86.8" height="9.8" fill="#b4b4b4" stroke="#505050" stroke-width="1.1"/>
<line x1="403.5" y1="1025.35" x2="419.8" y2="1025.35" stroke="#444" stroke-width="1"/>
<line x1="419.3" y1="1021.95" x2="419.3" y2="1028.75" stroke="#444" stroke-width="1"/>
<rect x="316.2" y="1041" width="87.6" height="10.1" fill="#fff" stroke="#3c3c3c" stroke-width="1.1"/>
<line x1="404.3" y1="1045.8" x2="421" y2="1045.8" stroke="#444" stroke-width="1"/>
<line x1="420.5" y1="1042.4" x2="420.5" y2="1049.2" stroke="#444" stroke-width="1"/>
<rect x="316.2" y="1030.5" width="90.6" height="10.5" fill="#000"/>
<line x1="406.8" y1="1035.5" x2="423.4" y2="1035.5" stroke="#444" stroke-width="1"/>
<line x1="422.9" y1="1032.3" x2="422.9" y2="1038.7" stroke="#444" stroke-width="1"/>
<rect x="316.2" y="1055.42" width="106.6" height="9.8" fill="#b4b4b4" stroke="#505050" stroke-width="1.1"/>
<line x1="423.3" y1="1060.07" x2="439" y2="1060.07" stroke="#444" stroke-width="1"/>
<line x1="438.5" y1="1056.67" x2="438.5" y2="1063.47" stroke="#444" stroke-width="1"/>
<rect x="316.2" y="1075.72" width="115.1" height="10.1" fill="#fff" stroke="#3c3c3c" stroke-width="1.1"/>
<line x1="431.8" y1="1080.52" x2="447" y2="1080.52" stroke="#444" stroke-width="1"/>
<line x1="446.5" y1="1077.12" x2="446.5" y2="1083.92" stroke="#444" stroke-width="1"/>
<rect x="316.2" y="1065.22" width="61.6" height="10.5" fill="#000"/>
<line x1="377.8" y1="1070.22" x2="393" y2="1070.22" stroke="#444" stroke-width="1"/>
<line x1="392.5" y1="1067.02" x2="392.5" y2="1073.42" stroke="#444" stroke-width="1"/>
<text x="400.26" y="1080.86" font-size="20" font-weight="bold" class="st">*</text>
<rect x="316.2" y="1090.14" width="76.8" height="9.8" fill="#b4b4b4" stroke="#505050" stroke-width="1.1"/>
<line x1="393.5" y1="1094.79" x2="409.8" y2="1094.79" stroke="#444" stroke-width="1"/>
<line x1="409.3" y1="1091.39" x2="409.3" y2="1098.19" stroke="#444" stroke-width="1"/>
<rect x="316.2" y="1110.44" width="79.3" height="10.1" fill="#fff" stroke="#3c3c3c" stroke-width="1.1"/>
<line x1="396" y1="1115.24" x2="412.8" y2="1115.24" stroke="#444" stroke-width="1"/>
<line x1="412.3" y1="1111.84" x2="412.3" y2="1118.64" stroke="#444" stroke-width="1"/>
<rect x="316.2" y="1099.94" width="40.6" height="10.5" fill="#000"/>
<line x1="356.8" y1="1104.94" x2="368.8" y2="1104.94" stroke="#444" stroke-width="1"/>
<line x1="368.3" y1="1101.74" x2="368.3" y2="1108.14" stroke="#444" stroke-width="1"/>
<text x="374.26" y="1115.58" font-size="20" font-weight="bold" class="st">*</text>
<rect x="316.2" y="1124.86" width="88.1" height="9.8" fill="#b4b4b4" stroke="#505050" stroke-width="1.1"/>
<line x1="404.8" y1="1129.51" x2="421.3" y2="1129.51" stroke="#444" stroke-width="1"/>
<line x1="420.8" y1="1126.11" x2="420.8" y2="1132.91" stroke="#444" stroke-width="1"/>
<rect x="316.2" y="1145.16" width="96.6" height="10.1" fill="#fff" stroke="#3c3c3c" stroke-width="1.1"/>
<line x1="413.3" y1="1149.96" x2="431.3" y2="1149.96" stroke="#444" stroke-width="1"/>
<line x1="430.8" y1="1146.56" x2="430.8" y2="1153.36" stroke="#444" stroke-width="1"/>
<rect x="316.2" y="1134.66" width="46.3" height="10.5" fill="#000"/>
<line x1="362.5" y1="1139.66" x2="374.8" y2="1139.66" stroke="#444" stroke-width="1"/>
<line x1="374.3" y1="1136.46" x2="374.3" y2="1142.86" stroke="#444" stroke-width="1"/>
<text x="386.76" y="1150.3" font-size="20" font-weight="bold" class="st">*</text>
<rect x="316.2" y="1159.58" width="101.6" height="9.8" fill="#b4b4b4" stroke="#505050" stroke-width="1.1"/>
<line x1="418.3" y1="1164.23" x2="433.5" y2="1164.23" stroke="#444" stroke-width="1"/>
<line x1="433" y1="1160.83" x2="433" y2="1167.63" stroke="#444" stroke-width="1"/>
<rect x="316.2" y="1179.88" width="108.3" height="10.1" fill="#fff" stroke="#3c3c3c" stroke-width="1.1"/>
<line x1="425" y1="1184.68" x2="440.5" y2="1184.68" stroke="#444" stroke-width="1"/>
<line x1="440" y1="1181.28" x2="440" y2="1188.08" stroke="#444" stroke-width="1"/>
<rect x="316.2" y="1169.38" width="56.1" height="10.5" fill="#000"/>
<line x1="372.3" y1="1174.38" x2="385.8" y2="1174.38" stroke="#444" stroke-width="1"/>
<line x1="385.3" y1="1171.18" x2="385.3" y2="1177.58" stroke="#444" stroke-width="1"/>
<text x="391.46" y="1185.02" font-size="20" font-weight="bold" class="st">*</text>
<rect x="316.2" y="1194.3" width="60.8" height="9.8" fill="#b4b4b4" stroke="#505050" stroke-width="1.1"/>
<line x1="377.5" y1="1198.95" x2="380.5" y2="1198.95" stroke="#444" stroke-width="1"/>
<line x1="380" y1="1195.55" x2="380" y2="1202.35" stroke="#444" stroke-width="1"/>
<rect x="316.2" y="1214.6" width="68.6" height="10.1" fill="#fff" stroke="#3c3c3c" stroke-width="1.1"/>
<line x1="385.3" y1="1219.4" x2="389.3" y2="1219.4" stroke="#444" stroke-width="1"/>
<line x1="388.8" y1="1216" x2="388.8" y2="1222.8" stroke="#444" stroke-width="1"/>
<rect x="316.2" y="1204.1" width="28.3" height="10.5" fill="#000"/>
<line x1="344.5" y1="1209.1" x2="350.8" y2="1209.1" stroke="#444" stroke-width="1"/>
<line x1="350.3" y1="1205.9" x2="350.3" y2="1212.3" stroke="#444" stroke-width="1"/>
<text x="357.46" y="1219.74" font-size="20" font-weight="bold" class="st">*</text>
<rect x="316.2" y="1229.02" width="124.1" height="9.8" fill="#b4b4b4" stroke="#505050" stroke-width="1.1"/>
<line x1="440.8" y1="1233.67" x2="453.3" y2="1233.67" stroke="#444" stroke-width="1"/>
<line x1="452.8" y1="1230.27" x2="452.8" y2="1237.07" stroke="#444" stroke-width="1"/>
<rect x="316.2" y="1249.32" width="133.3" height="10.1" fill="#fff" stroke="#3c3c3c" stroke-width="1.1"/>
<line x1="450" y1="1254.12" x2="461.9" y2="1254.12" stroke="#444" stroke-width="1"/>
<line x1="461.4" y1="1250.72" x2="461.4" y2="1257.52" stroke="#444" stroke-width="1"/>
<rect x="316.2" y="1238.82" width="76.8" height="10.5" fill="#000"/>
<line x1="393" y1="1243.82" x2="406.8" y2="1243.82" stroke="#444" stroke-width="1"/>
<line x1="406.3" y1="1240.62" x2="406.3" y2="1247.02" stroke="#444" stroke-width="1"/>
<text x="412.46" y="1254.46" font-size="20" font-weight="bold" class="st">*</text>
<line x1="316.2" y1="1052.86" x2="319.2" y2="1052.86" stroke="#000" stroke-width="1"/>
<line x1="316.2" y1="1087.83" x2="319.2" y2="1087.83" stroke="#000" stroke-width="1"/>
<line x1="316.2" y1="1122.79" x2="319.2" y2="1122.79" stroke="#000" stroke-width="1"/>
<line x1="316.2" y1="1157.75" x2="319.2" y2="1157.75" stroke="#000" stroke-width="1"/>
<line x1="316.2" y1="1192.71" x2="319.2" y2="1192.71" stroke="#000" stroke-width="1"/>
<line x1="316.2" y1="1227.67" x2="319.2" y2="1227.67" stroke="#000" stroke-width="1"/>
<line x1="316.2" y1="1262.64" x2="319.2" y2="1262.64" stroke="#000" stroke-width="1"/>
<line x1="316.2" y1="1016.9" x2="316.2" y2="1298.4" stroke="#000" stroke-width="1.6"/>
<line x1="315.4" y1="1017.9" x2="516.2" y2="1017.9" stroke="#000" stroke-width="2.4"/>
<line x1="315.4" y1="1297.6" x2="516.2" y2="1297.6" stroke="#000" stroke-width="2.4"/>
<line x1="515.6" y1="1017.9" x2="515.6" y2="1297.6" stroke="#000" stroke-width="1.3"/>
<rect x="316.2" y="1275.5" width="1.8" height="6" fill="#000"/>
<line x1="382.67" y1="1297.6" x2="382.67" y2="1294.1" stroke="#000" stroke-width="1"/>
<line x1="449.13" y1="1297.6" x2="449.13" y2="1294.1" stroke="#000" stroke-width="1"/>
<text x="315.14" y="1326" font-size="21.89" textLength="12.75" lengthAdjust="spacingAndGlyphs">0</text>
<text x="365.63" y="1326" font-size="21.89" textLength="32.09" lengthAdjust="spacingAndGlyphs">0.5</text>
<text x="431.46" y="1326" font-size="21.89" textLength="32.32" lengthAdjust="spacingAndGlyphs">1.0</text>
<text x="481.08" y="1326" font-size="21.89" textLength="29.98" lengthAdjust="spacingAndGlyphs">1.5</text>
<text x="352.98" y="1352.8" font-size="21.51" textLength="134.57" lengthAdjust="spacingAndGlyphs">IL-10 (ng/mL)</text>
<text x="21.11" y="1046.9" font-size="22.24" textLength="44.76" lengthAdjust="spacingAndGlyphs">LPS</text>
<text x="12.19" y="1078" font-size="22.24" textLength="54.07" lengthAdjust="spacingAndGlyphs">HeLa</text>
<text x="20.54" y="1115" font-size="22.24" textLength="43.38" lengthAdjust="spacingAndGlyphs">95D</text>
<text x="3.96" y="1150.5" font-size="22.24" textLength="72.86" lengthAdjust="spacingAndGlyphs">HepG2</text>
<text x="25.65" y="1186" font-size="22.24" textLength="31.16" lengthAdjust="spacingAndGlyphs">SK</text>
<text x="17.18" y="1219.5" font-size="22.24" textLength="54.93" lengthAdjust="spacingAndGlyphs">U251</text>
<text x="13.5" y="1255.1" font-size="22.24" textLength="59.43" lengthAdjust="spacingAndGlyphs">HA60</text>
<text x="20.7" y="1286.6" font-size="22.24" textLength="46.19" lengthAdjust="spacingAndGlyphs">Med</text>
</svg>
</body></html>
